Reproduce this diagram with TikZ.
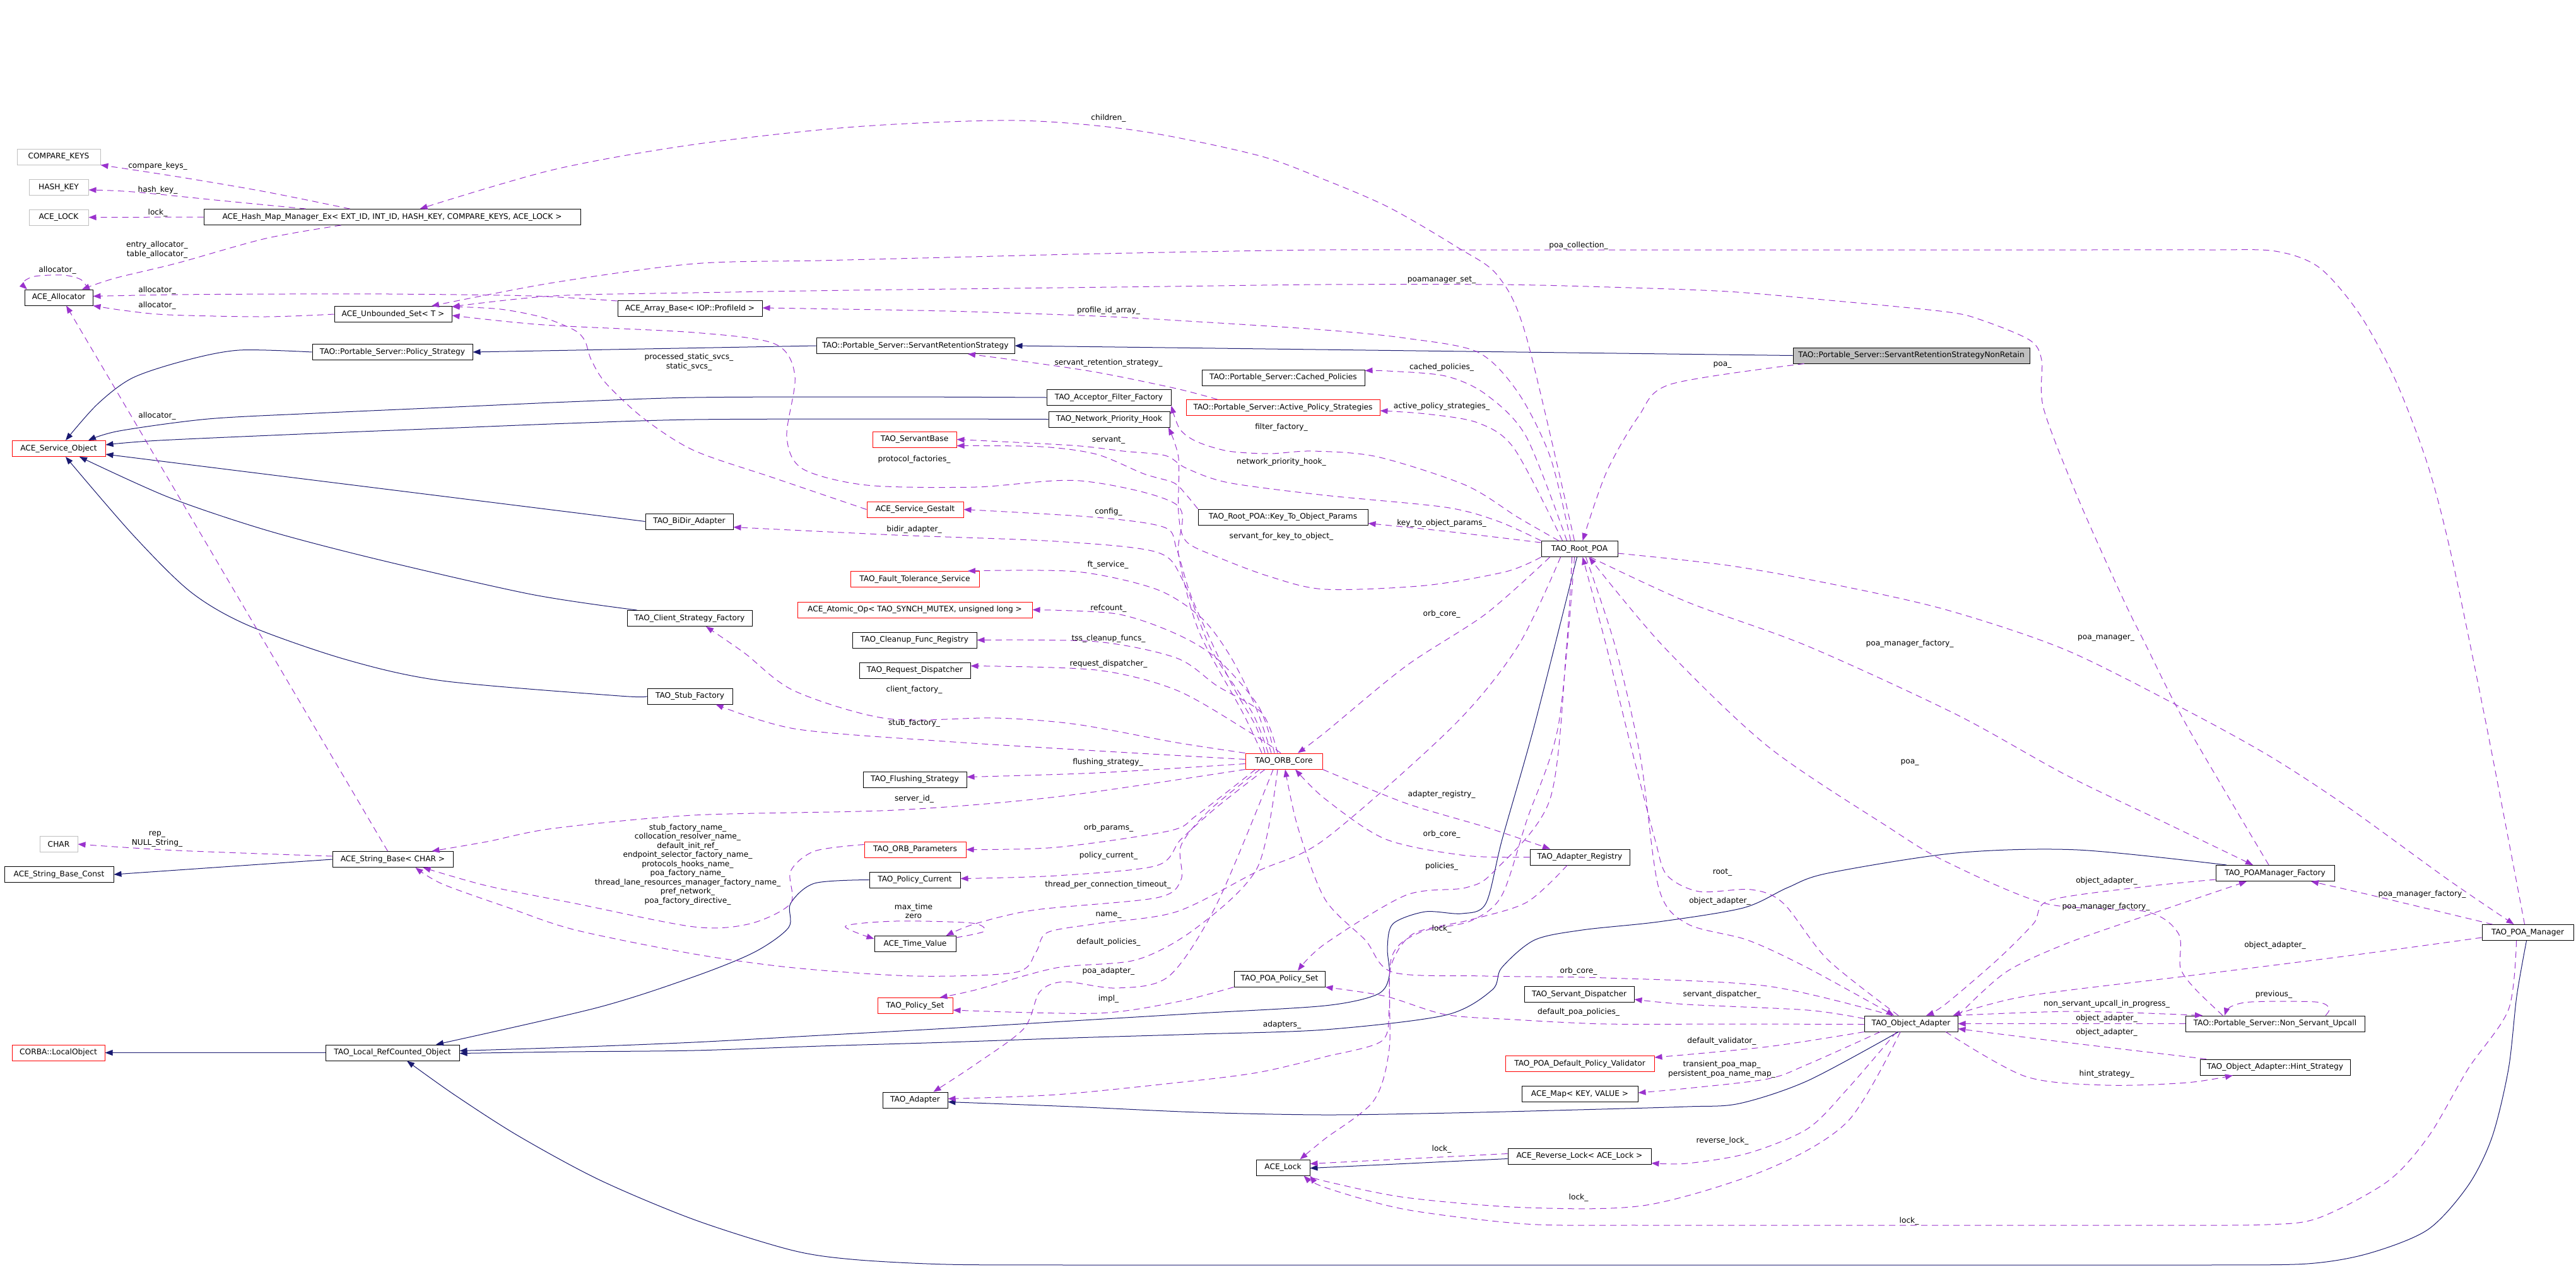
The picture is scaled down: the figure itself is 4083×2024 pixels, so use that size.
\documentclass[tikz,border=0pt]{standalone}
\usepackage{fontspec}
\setmainfont{DejaVu Sans}
\usetikzlibrary{arrows.meta}
\definecolor{usecol}{HTML}{9A32CD}
\definecolor{inhcol}{HTML}{191970}
\definecolor{extcol}{HTML}{BFBFBF}
\def\fs{\fontsize{12.2pt}{14.5pt}\selectfont}

\begin{document}
\begin{tikzpicture}[x=1pt, y=-1pt,
  cls/.style={draw=black, line width=1pt, minimum height=25pt, inner sep=0pt, font=\fs},
  redcls/.style={cls, draw=red},
  extcls/.style={cls, draw=extcol},
  curcls/.style={cls, fill=extcol},
  lbl/.style={font=\fs, inner sep=0pt, align=center},
  usage/.style={draw=usecol, line width=1pt, dash pattern=on 10pt off 7pt, -{Triangle[length=12pt,width=9pt]}},
  inherit/.style={draw=inhcol, line width=1pt, -{Triangle[length=12pt,width=9pt]}}]

	\useasboundingbox (0,0) rectangle (4083,2024);

	% classes
	\node[extcls, minimum width=132pt] (ck) at (93,248.5) {COMPARE\_KEYS};
	\node[extcls, minimum width=94pt] (hk) at (93,297) {HASH\_KEY};
	\node[extcls, minimum width=94pt] (al) at (93,344.5) {ACE\_LOCK};
	\node[cls, minimum width=597pt] (hm) at (621.5,344) {ACE\_Hash\_Map\_Manager\_Ex< EXT\_ID, INT\_ID, HASH\_KEY, COMPARE\_KEYS, ACE\_LOCK >};
	\node[cls, minimum width=108pt] (alloc) at (93,471.5) {ACE\_Allocator};
	\node[cls, minimum width=186pt] (us) at (623,498) {ACE\_Unbounded\_Set< T >};
	\node[cls, minimum width=229pt] (ab) at (1093.5,489) {ACE\_Array\_Base< IOP::ProfileId >};
	\node[cls, minimum width=254pt] (ps) at (622,558) {TAO::Portable\_Server::Policy\_Strategy};
	\node[cls, minimum width=314pt] (srs) at (1451,548) {TAO::Portable\_Server::ServantRetentionStrategy};
	\node[curcls, minimum width=375pt] (nr) at (3029.5,563.5) {TAO::Portable\_Server::ServantRetentionStrategyNonRetain};
	\node[cls, minimum width=258pt] (cp) at (2034,598.5) {TAO::Portable\_Server::Cached\_Policies};
	\node[cls, minimum width=197pt] (aff) at (1757.5,630) {TAO\_Acceptor\_Filter\_Factory};
	\node[redcls, minimum width=307pt] (aps) at (2033.5,646) {TAO::Portable\_Server::Active\_Policy\_Strategies};
	\node[redcls, minimum width=148pt] (so) at (93,711) {ACE\_Service\_Object};
	\node[cls, minimum width=192pt] (nph) at (1758,664.5) {TAO\_Network\_Priority\_Hook};
	\node[redcls, minimum width=133pt] (sb) at (1449.5,696.5) {TAO\_ServantBase};
	\node[redcls, minimum width=153pt] (sg) at (1450.5,807.5) {ACE\_Service\_Gestalt};
	\node[cls, minimum width=269pt] (kto) at (2033.5,819.5) {TAO\_Root\_POA::Key\_To\_Object\_Params};
	\node[cls, minimum width=121pt] (rpoa) at (2503.5,870) {TAO\_Root\_POA};
	\node[cls, minimum width=139pt] (bidir) at (1092.5,826.5) {TAO\_BiDir\_Adapter};
	\node[redcls, minimum width=204pt] (fts) at (1450,918) {TAO\_Fault\_Tolerance\_Service};
	\node[redcls, minimum width=372pt] (atom) at (1450,966.5) {ACE\_Atomic\_Op< TAO\_SYNCH\_MUTEX, unsigned long >};
	\node[cls, minimum width=198pt] (csf) at (1093,980) {TAO\_Client\_Strategy\_Factory};
	\node[cls, minimum width=197pt] (cfr) at (1449.5,1014.5) {TAO\_Cleanup\_Func\_Registry};
	\node[cls, minimum width=176pt] (rd) at (1450,1062.5) {TAO\_Request\_Dispatcher};
	\node[cls, minimum width=135pt] (stubf) at (1093.5,1103.5) {TAO\_Stub\_Factory};
	\node[redcls, minimum width=122pt] (orb) at (2035,1206.5) {TAO\_ORB\_Core};
	\node[cls, minimum width=164pt] (fls) at (1450,1235.5) {TAO\_Flushing\_Strategy};
	\node[extcls, minimum width=60pt] (chr) at (93,1338) {CHAR};
	\node[cls, minimum width=191pt] (sbase) at (622.5,1362) {ACE\_String\_Base< CHAR >};
	\node[cls, minimum width=173pt] (sbc) at (93.5,1386) {ACE\_String\_Base\_Const};
	\node[redcls, minimum width=161pt] (orbp) at (1450.5,1346.5) {TAO\_ORB\_Parameters};
	\node[cls, minimum width=144pt] (pcur) at (1450,1394.5) {TAO\_Policy\_Current};
	\node[cls, minimum width=158pt] (areg) at (2504,1358.5) {TAO\_Adapter\_Registry};
	\node[cls, minimum width=129pt] (tv) at (1450.5,1496) {ACE\_Time\_Value};
	\node[cls, minimum width=188pt] (pmf) at (3606,1384) {TAO\_POAManager\_Factory};
	\node[cls, minimum width=145pt] (pm) at (4006.5,1478) {TAO\_POA\_Manager};
	\node[redcls, minimum width=119pt] (pset) at (1450.5,1594) {TAO\_Policy\_Set};
	\node[cls, minimum width=144pt] (ppset) at (2028,1551.5) {TAO\_POA\_Policy\_Set};
	\node[cls, minimum width=174pt] (sdisp) at (2503,1576) {TAO\_Servant\_Dispatcher};
	\node[cls, minimum width=148pt] (oa) at (3029,1622.5) {TAO\_Object\_Adapter};
	\node[cls, minimum width=284pt] (nsu) at (3606,1622.5) {TAO::Portable\_Server::Non\_Servant\_Upcall};
	\node[redcls, minimum width=147pt] (lo) at (92.5,1668.5) {CORBA::LocalObject};
	\node[cls, minimum width=212pt] (lrc) at (622,1668.5) {TAO\_Local\_RefCounted\_Object};
	\node[redcls, minimum width=236pt] (dpv) at (2504,1686) {TAO\_POA\_Default\_Policy\_Validator};
	\node[cls, minimum width=238pt] (hs) at (3606,1691.5) {TAO\_Object\_Adapter::Hint\_Strategy};
	\node[cls, minimum width=184pt] (amap) at (2504,1734) {ACE\_Map< KEY, VALUE >};
	\node[cls, minimum width=103pt] (adp) at (1450.5,1743.5) {TAO\_Adapter};
	\node[cls, minimum width=227pt] (rlock) at (2503.5,1832.5) {ACE\_Reverse\_Lock< ACE\_Lock >};
	\node[cls, minimum width=85pt] (lock) at (2033.5,1850.5) {ACE\_Lock};

	% inheritance
	\draw[inherit] (nr.west) -- (srs.east);
	\draw[inherit] (srs.west) -- (ps.east);
	\draw[inherit] plot[smooth] coordinates {(ps.west) (379,555) (295,571) (210,599) (154,641) ([xshift=11pt]so.north)};
	\draw[inherit] plot[smooth] coordinates {(aff.west) (1400,629) (1100,630) (900,637) (700,646) (500,655) (330,664) (189,683) ([xshift=47pt]so.north)};
	\draw[inherit] plot[smooth] coordinates {(nph.west) (1400,664) (1100,665) (900,671) (700,679) (500,687) (253,698) ([yshift=6pt]so.east)};
	\draw[inherit] (bidir.west) -- ([yshift=-9pt]so.east);
	\draw[inherit] plot[smooth] coordinates {([xshift=16pt]csf.north west) (842,942) (596,886) (421,840) (267,788) ([xshift=33pt]so.south)};
	\draw[inherit] plot[smooth] coordinates {(stubf.west) (982,1103) (701,1079) (547,1045) (393,991) (302,938) (210,847) ([xshift=11pt]so.south)};
	\draw[inherit] (sbase.west) -- (sbc.east);
	\draw[inherit] (lrc.west) -- (lo.east);
	\draw[inherit] plot[smooth] coordinates {(pcur.west) (1291,1400) (1253,1432) (1250,1470) (1196,1509) (1100,1548) (947,1597) ([xshift=69pt]lrc.north)};
	\draw[inherit] plot[smooth] coordinates {([xshift=-4pt]rpoa.south) (2432,1150) (2381,1330) (2355,1432) (2317,1448) (2259,1445) (2208,1464) (2199,1502) (2202,1547) (2183,1576) (2100,1594) (1900,1606) (1700,1618) (1500,1630) (1300,1641) (1100,1652) (900,1660) ([yshift=3pt]lrc.east)};
	\draw[inherit] plot[smooth] coordinates {([xshift=-77pt]pmf.north) (3293,1347) (3100,1352) (2897,1384) (2833,1407) (2763,1439) (2629,1461) (2508,1474) (2432,1490) (2380,1534) (2365,1569) (2291,1609) (2100,1632) (1900,1639) (1700,1645) (1500,1652) (1300,1658) (1100,1665) (900,1667) ([yshift=-1pt]lrc.east)};
	\draw[inherit] plot[smooth] coordinates {([xshift=-2pt]pm.south) (3989,1579) (3976,1694) (3950,1802) (3912,1879) (3848,1949) (3753,1987) (3657,2003) (3500,2005) (3300,2005) (3100,2005) (2900,2005) (2700,2005) (2500,2005) (2300,2005) (2100,2005) (1900,2005) (1700,2005) (1500,2004) (1350,1996) (1253,1981) (1100,1933) (950,1870) (821,1800) (720,1735) ([xshift=23pt]lrc.south)};
	\draw[inherit] plot[smooth] coordinates {([xshift=-20pt]oa.south) (2865,1713) (2757,1749) (2674,1754) (2500,1759) (2300,1764) (2100,1767) (1900,1763) (1700,1754) ([yshift=-3pt]adp.east)};
	\draw[inherit] ([yshift=-4pt]rlock.west) -- ([yshift=-1pt]lock.east);

	% usage, left part
	\draw[usage] plot[smooth] coordinates {([xshift=-67pt]hm.north) (421,304) (281,280) (ck.south east)};
	\node[lbl] (t1) at (250,263) {compare\_keys\_};
	\draw[usage] plot[smooth] coordinates {([xshift=-137pt]hm.north) (351,318) (210,304) ([yshift=-4pt]hk.east)};
	\node[lbl] (t2) at (250,301) {hash\_key\_};
	\draw[usage] (hm.west) -- (al.east);
	\node[lbl] (t3) at (250,337) {lock\_};
	\draw[usage] plot[smooth] coordinates {([xshift=-81pt]hm.south) (421,378) (281,417) (182,441) ([xshift=37pt]alloc.north)};
	\node[lbl] (t4) at (249,396) {entry\_allocator\_\\table\_allocator\_};
	\draw[usage] plot[smooth] coordinates {([xshift=47pt]alloc.north) (128,443) (100,436) (55,438) (36,448) ([xshift=-50pt]alloc.north)};
	\node[lbl] (t5) at (91,428) {allocator\_};
	\draw[usage] plot[smooth] coordinates {([yshift=12pt]ab.west) (842,469) (617,466) (450,466) (281,467) ([yshift=2pt]alloc.east)};
	\node[lbl] (t6) at (249,460) {allocator\_};
	\draw[usage] plot[smooth] coordinates {(us.west) (421,502) (267,499) (196,492) (alloc.south east)};
	\node[lbl] (t7) at (249,484) {allocator\_};
	\draw[usage] ([xshift=-8pt]sbase.north) -- ([xshift=12pt]alloc.south);
	\node[lbl] (t8) at (249,659) {allocator\_};
	\draw[usage] plot[smooth] coordinates {([yshift=5pt]sbase.west) (281,1348) (chr.east)};
	\node[lbl] (t9) at (249,1330) {rep\_\\NULL\_String\_};

	% long edges over the top
	\draw[usage] plot[smooth] coordinates {([xshift=-8pt]rpoa.north) (2419,533) (2374,437) (2310,392) (2202,329) (2100,285) (1993,246) (1802,207) (1610,191) (1355,201) (1100,229) (877,269) ([xshift=44pt]hm.north)};
	\node[lbl] (t10) at (1757,187) {children\_};
	\draw[usage] plot[smooth] coordinates {([xshift=-5pt]pm.north) (3941,1150) (3886,883) (3848,737) (3797,603) (3740,498) (3676,424) (3606,398) (3500,396) (3300,396) (3100,396) (2900,396) (2700,396) (2500,396) (2300,396) (2100,396) (1900,399) (1700,403) (1500,408) (1300,413) (1100,418) (877,448) ([xshift=61pt]us.north)};
	\node[lbl] (t11) at (2502,389) {poa\_collection\_};
	\draw[usage] plot[smooth] coordinates {([xshift=-10pt]pmf.north) (3466,1150) (3402,1024) (3364,947) (3293,788) (3239,647) (3236,571) (3217,539) (3140,507) (3083,494) (2900,476) (2738,462) (2550,455) (2374,451) (2100,451) (1850,454) (1600,457) (1350,460) (1100,464) (877,469) ([yshift=12pt]us.east)};
	\node[lbl] (t12) at (2285,444) {poamanager\_set\_};
	\draw[usage] plot[smooth] coordinates {(sg.west) (1228,758) (1100,714) (1020,663) (960,607) (937,570) (927,540) (910,523) (860,503) (793,490) ([yshift=12pt]us.east)};
	\node[lbl] (t13) at (1092,574) {processed\_static\_svcs\_\\static\_svcs\_};
	\draw[usage] plot[smooth] coordinates {([xshift=-35pt]orb.north) (1970,1130) (1900,1000) (1868,880) (1865,800) (1712,762) (1546,772) (1374,769) (1272,743) (1247,692) (1260,596) (1228,545) (1100,527) (863,515) ([yshift=-2pt]us.east)};
	\node[lbl] (t14) at (1449,728) {protocol\_factories\_};

	% around TAO_Root_POA
	\draw[usage] plot[smooth] coordinates {([xshift=-14pt]rpoa.north) (2457,724) (2406,622) (2342,558) (2228,536) (2100,523) (1900,510) (1738,501) (1500,493) ([yshift=1pt]ab.east)};
	\node[lbl] (t15) at (1757,492) {profile\_id\_array\_};
	\draw[usage] plot[smooth] coordinates {([xshift=-104pt]aps.north) (1865,616) (1738,590) (1610,571) ([xshift=83pt]srs.south)};
	\node[lbl] (t16) at (1757,575) {servant\_retention\_strategy\_};
	\draw[usage] plot[smooth] coordinates {([xshift=-20pt]rpoa.north) (2419,692) (2355,625) (2291,596) (2200,588) ([yshift=-2pt]cp.north east)};
	\node[lbl] (t17) at (2285,582) {cached\_policies\_};
	\draw[usage] plot[smooth] coordinates {([xshift=-27pt]rpoa.north) (2400,711) (2342,670) (2260,656) ([yshift=-5pt]aps.east)};
	\node[lbl] (t18) at (2285,644) {active\_policy\_strategies\_};
	\draw[usage] plot[smooth] coordinates {([xshift=-33pt]rpoa.north) (2406,820) (2323,769) (2183,724) (2080,715) (2013,719) (1947,715) (1897,700) (1870,680) (aff.south east)};
	\node[lbl] (t19) at (2031,677) {filter\_factory\_};
	\draw[usage] plot[smooth] coordinates {(rpoa.south west) (2387,906) (2259,928) (2100,934) (2013,914) (1930,883) (1880,858) (1868,814) (1868,726) ([xshift=94pt]nph.south)};
	\node[lbl] (t20) at (2031,732) {network\_priority\_hook\_};
	\draw[usage] plot[smooth] coordinates {(rpoa.north west) (2374,826) (2291,804) (2100,785) (1947,765) (1880,742) (1847,722) (1780,715) (1700,706) (sb.east)};
	\node[lbl] (t21) at (2031,850) {servant\_for\_key\_to\_object\_};
	\draw[usage] plot[smooth] coordinates {(kto.north west) (1880,784) (1860,765) (1813,751) (1738,720) (1650,708) ([yshift=-10pt]sb.east)};
	\node[lbl] (t22) at (1757,698) {servant\_};
	\draw[usage] plot[smooth] coordinates {([yshift=10pt]rpoa.west) (2291,842) ([yshift=-10pt]kto.east)};
	\node[lbl] (t23) at (2285,829) {key\_to\_object\_params\_};
	\draw[usage] plot[smooth] coordinates {([xshift=-170pt]nr.south) (2648,609) (2597,660) (2546,749) ([xshift=5pt]rpoa.north)};
	\node[lbl] (t24) at (2730,579) {poa\_};

	% around TAO_ORB_Core
	\draw[usage] plot[smooth] coordinates {([xshift=-30pt]orb.north) (1990,1150) (1950,1080) (1890,950) (1865,870) (1846,836) (1738,820) (sg.east)};
	\node[lbl] (t25) at (1757,811) {config\_};
	\draw[usage] plot[smooth] coordinates {([xshift=-25pt]orb.north) (1985,1130) (1920,1030) (1875,920) (1833,875) (1674,858) (1419,848) ([yshift=-9pt]bidir.east)};
	\node[lbl] (t26) at (1449,839) {bidir\_adapter\_};
	\draw[usage] plot[smooth] coordinates {([xshift=-20pt]orb.north) (1990,1120) (1950,1040) (1904,979) (1833,934) (1706,906) ([xshift=84pt]fts.north)};
	\node[lbl] (t27) at (1756,895) {ft\_service\_};
	\draw[usage] plot[smooth] coordinates {([xshift=-15pt]orb.north) (1995,1120) (1930,1045) (1865,1005) (1770,973) (atom.east)};
	\node[lbl] (t28) at (1757,964) {refcount\_};
	\draw[usage] plot[smooth] coordinates {([xshift=-10pt]orb.north) (2000,1130) (1929,1087) (1865,1043) (1738,1017) (cfr.east)};
	\node[lbl] (t29) at (1757,1012) {tss\_cleanup\_funcs\_};
	\draw[usage] plot[smooth] coordinates {([xshift=-5pt]orb.north) (1980,1160) (1865,1094) (1738,1062) ([yshift=7pt]rd.east)};
	\node[lbl] (t30) at (1757,1052) {request\_dispatcher\_};
	\draw[usage] plot[smooth] coordinates {(orb.north west) (1865,1177) (1706,1148) (1578,1138) (1406,1139) (1259,1095) (1180,1035) ([xshift=26pt]csf.south)};
	\node[lbl] (t31) at (1449,1093) {client\_factory\_};
	\draw[usage] plot[smooth] coordinates {([yshift=3pt]orb.west) (1738,1190) (1483,1174) (1259,1155) ([xshift=41pt]stubf.south)};
	\node[lbl] (t32) at (1449,1146) {stub\_factory\_};
	\draw[usage] plot[smooth] coordinates {([yshift=-4pt]orb.west) (1738,1225) ([yshift=4pt]fls.east)};
	\node[lbl] (t33) at (1756,1208) {flushing\_strategy\_};
	\draw[usage] plot[smooth] coordinates {(orb.south west) (1674,1263) (1419,1284) (1100,1292) (877,1313) (772,1334) ([xshift=62pt]sbase.north)};
	\node[lbl] (t34) at (1449,1266) {server\_id\_};
	\draw[usage] plot[smooth] coordinates {([yshift=8pt]orbp.west) (1291,1349) (1253,1381) (1253,1432) (1189,1464) (1100,1469) (912,1432) (772,1404) ([xshift=48pt]sbase.south)};
	\node[lbl] (t35) at (1090,1370) {stub\_factory\_name\_\\collocation\_resolver\_name\_\\default\_init\_ref\_\\endpoint\_selector\_factory\_name\_\\protocols\_hooks\_name\_\\poa\_factory\_name\_\\thread\_lane\_resources\_manager\_factory\_name\_\\pref\_network\_\\poa\_factory\_directive\_};
	\draw[usage] plot[smooth] coordinates {([xshift=-45pt]orb.south) (1897,1292) (1853,1317) (1674,1343) (orbp.east)};
	\node[lbl] (t36) at (1757,1312) {orb\_params\_};
	\draw[usage] plot[smooth] coordinates {([xshift=-30pt]orb.south) (1929,1279) (1872,1330) (1833,1372) (1674,1388) ([yshift=2pt]pcur.east)};
	\node[lbl] (t37) at (1757,1356) {policy\_current\_};
	\draw[usage] plot[smooth] coordinates {([xshift=-38pt]orb.south) (1916,1285) (1872,1340) (1872,1394) (1833,1423) (1642,1442) (1546,1464) ([xshift=49pt]tv.north)};
	\node[lbl] (t38) at (1756,1402) {thread\_per\_connection\_timeout\_};
	\draw[usage] plot[smooth] coordinates {([yshift=10pt]tv.east) (1560,1476) (1540,1463) (1419,1460) (1340,1468) ([yshift=8pt]tv.west)};
	\node[lbl] (t39) at (1448,1444) {max\_time\\zero};
	\draw[usage] plot[smooth] coordinates {([xshift=-30pt]rpoa.south) (2406,1024) (2304,1150) (2100,1330) (1993,1381) (1865,1445) (1738,1464) (1660,1478) (1642,1509) (1610,1541) (1451,1547) (1259,1534) (1100,1512) (912,1474) (807,1439) (701,1401) ([xshift=36pt]sbase.south)};
	\node[lbl] (t40) at (1757,1451) {name\_};
	\draw[usage] plot[smooth] coordinates {([xshift=-10pt]orb.south) (1993,1375) (1897,1470) (1802,1521) (1674,1534) (1546,1569) ([xshift=39pt]pset.north)};
	\node[lbl] (t41) at (1757,1493) {default\_policies\_};
	\draw[usage] plot[smooth] coordinates {([xshift=-17pt]orb.south) (1929,1432) (1853,1547) (1770,1566) (1687,1556) (1648,1572) (1623,1630) (1546,1687) ([xshift=29pt]adp.north)};
	\node[lbl] (t42) at (1757,1539) {poa\_adapter\_};
	\draw[usage] plot[smooth] coordinates {(ppset.south west) (1865,1588) (1738,1606) ([yshift=-7pt]pset.east)};
	\node[lbl] (t43) at (1757,1583) {impl\_};

	% registry, policies, lock
	\draw[usage] plot[smooth] coordinates {([xshift=-20pt]areg.south) (2420,1430) (2330,1458) (2240,1480) (2205,1530) (2202,1598) (2190,1650) (2100,1675) (1993,1700) (1865,1716) (1674,1735) ([yshift=2pt]adp.east)};
	\node[lbl] (t44) at (2032,1624) {adapters\_};
	\draw[usage] plot[smooth] coordinates {(orb.south east) (2228,1273) (2355,1311) ([xshift=-47pt]areg.north)};
	\node[lbl] (t45) at (2285,1259) {adapter\_registry\_};
	\draw[usage] plot[smooth] coordinates {(areg.west) (2323,1356) (2196,1330) (2100,1266) ([xshift=18pt]orb.south)};
	\node[lbl] (t46) at (2285,1322) {orb\_core\_};
	\draw[usage] plot[smooth] coordinates {([xshift=-47pt]rpoa.south) (2355,973) (2228,1056) (2100,1161) ([xshift=22pt]orb.north)};
	\node[lbl] (t47) at (2285,973) {orb\_core\_};
	\draw[usage] plot[smooth] coordinates {([xshift=-12pt]rpoa.south) (2483,1024) (2457,1266) (2368,1381) (2323,1407) (2228,1419) (2100,1496) ([xshift=29pt]ppset.north)};
	\node[lbl] (t48) at (2285,1373) {policies\_};
	\draw[usage] plot[smooth] coordinates {([xshift=-8pt]rpoa.south) (2470,1150) (2420,1300) (2380,1420) (2330,1460) (2250,1478) (2205,1520) (2202,1662) (2177,1745) (2100,1805) ([xshift=27pt]lock.north)};
	\node[lbl] (t49) at (2285,1472) {lock\_};

	% around TAO_Object_Adapter
	\draw[usage] plot[smooth] coordinates {([xshift=-20pt]oa.north) (2897,1521) (2827,1432) (2776,1410) (2693,1413) (2642,1387) (2623,1330) (2585,1183) (2546,1024) ([xshift=5pt]rpoa.south)};
	\node[lbl] (t50) at (2730,1383) {root\_};
	\draw[usage] plot[smooth] coordinates {([xshift=10pt]rpoa.south) (2560,1024) (2600,1200) (2629,1407) (2674,1464) (2770,1490) (2865,1534) ([xshift=-27pt]oa.north)};
	\node[lbl] (t51) at (2726,1428) {object\_adapter\_};
	\draw[usage] plot[smooth] coordinates {([xshift=-30pt]oa.north) (2802,1563) (2546,1550) (2355,1547) (2208,1541) (2164,1490) (2100,1425) (2057,1311) ([xshift=2pt]orb.south)};
	\node[lbl] (t52) at (2502,1539) {orb\_core\_};
	\draw[usage] plot[smooth] coordinates {([yshift=8pt]oa.west) (2865,1601) (2674,1592) ([yshift=-8pt]sdisp.east)};
	\node[lbl] (t53) at (2729,1576) {servant\_dispatcher\_};
	\draw[usage] plot[smooth] coordinates {([yshift=-1pt]oa.west) (2750,1623) (2546,1623) (2400,1616) (2291,1608) (2196,1579) (ppset.south east)};
	\node[lbl] (t54) at (2502,1604) {default\_poa\_policies\_};
	\draw[usage] plot[smooth] coordinates {(oa.south west) (2802,1659) ([yshift=10pt]dpv.east)};
	\node[lbl] (t55) at (2729,1650) {default\_validator\_};
	\draw[usage] plot[smooth] coordinates {([xshift=-49pt]oa.south) (2865,1687) (2802,1710) (2674,1725) ([yshift=2pt]amap.east)};
	\node[lbl] (t56) at (2729,1695) {transient\_poa\_map\_\\persistent\_poa\_name\_map\_};
	\draw[usage] plot[smooth] coordinates {([xshift=-23pt]oa.south) (2929,1725) (2865,1789) (2770,1828) (2674,1844) ([yshift=-11pt]rlock.east)};
	\node[lbl] (t57) at (2730,1808) {reverse\_lock\_};
	\draw[usage] ([yshift=4pt]rlock.west) -- ([yshift=6pt]lock.east);
	\node[lbl] (t58) at (2285,1821) {lock\_};
	\draw[usage] plot[smooth] coordinates {([xshift=-17pt]oa.south) (2929,1777) (2802,1853) (2610,1910) (2419,1914) (2228,1898) (2100,1872) (lock.south east)};
	\node[lbl] (t59) at (2502,1898) {lock\_};
	\draw[usage] plot[smooth] coordinates {([xshift=-18pt]pm.south) (3976,1600) (3912,1694) (3850,1800) (3785,1872) (3676,1930) (3593,1941) (3400,1942) (3200,1942) (3000,1942) (2800,1942) (2600,1942) (2419,1940) (2228,1917) (2100,1882) ([xshift=-10pt]lock.south east)};
	\node[lbl] (t60) at (3026,1935) {lock\_};

	% managers and upcalls
	\draw[usage] plot[smooth] coordinates {([yshift=-7pt]rpoa.east) (2738,896) (2900,925) (3083,966) (3274,1030) (3466,1126) (3600,1200) (3721,1279) (3880,1394) ([xshift=-22pt]pm.north)};
	\node[lbl] (t61) at (3338,1012) {poa\_manager\_};
	\draw[usage] plot[smooth] coordinates {([xshift=17pt]rpoa.south) (2674,954) (2865,1024) (3100,1132) (3274,1228) (3434,1305) ([xshift=-35pt]pmf.north)};
	\node[lbl] (t62) at (3027,1020) {poa\_manager\_factory\_};
	\draw[usage] plot[smooth] coordinates {([xshift=-83pt]nsu.north) (3478,1566) (3456,1534) (3453,1480) (3402,1445) (3242,1432) (3083,1365) (2993,1311) (2802,1183) (2636,1024) ([xshift=15pt]rpoa.south)};
	\node[lbl] (t63) at (3027,1209) {poa\_};
	\draw[usage] plot[smooth] coordinates {([yshift=-10pt]pmf.west) (3402,1405) (3249,1427) (3223,1464) (3166,1521) (3083,1592) ([xshift=24pt]oa.north)};
	\node[lbl] (t64) at (3339,1396) {object\_adapter\_};
	\draw[usage] plot[smooth] coordinates {(oa.north east) (3179,1541) (3274,1496) (3402,1451) ([xshift=-45pt]pmf.south)};
	\node[lbl] (t65) at (3338,1437) {poa\_manager\_factory\_};
	\draw[usage] plot[smooth] coordinates {([xshift=-56pt]pm.north) (3759,1419) ([xshift=57pt]pmf.south)};
	\node[lbl] (t66) at (3839,1417) {poa\_manager\_factory\_};
	\draw[usage] plot[smooth] coordinates {([yshift=-8pt]pm.west) (3721,1515) (3466,1547) (3210,1579) ([xshift=-8pt]oa.north east)};
	\node[lbl] (t67) at (3606,1498) {object\_adapter\_};
	\draw[usage] plot[smooth] coordinates {([xshift=-4pt]oa.north east) (3290,1603) ([xshift=-115pt]nsu.north)};
	\node[lbl] (t68) at (3339,1591) {non\_servant\_upcall\_in\_progress\_};
	\draw[usage] (nsu.west) -- (oa.east);
	\node[lbl] (t69) at (3339,1614) {object\_adapter\_};
	\draw[usage] plot[smooth] coordinates {([xshift=-109pt]hs.north) (3274,1652) ([yshift=-8pt]oa.east)};
	\node[lbl] (t70) at (3339,1636) {object\_adapter\_};
	\draw[usage] plot[smooth] coordinates {([xshift=55pt]oa.south) (3210,1706) (3338,1720) (3466,1716) ([xshift=-67pt]hs.south)};
	\node[lbl] (t71) at (3339,1702) {hint\_strategy\_};
	\draw[usage] plot[smooth] coordinates {([xshift=80pt]nsu.north) (3692,1598) (3670,1588) (3568,1588) (3535,1596) ([xshift=-80pt]nsu.north)};
	\node[lbl] (t72) at (3604,1576) {previous\_};

\end{tikzpicture}
\end{document}
